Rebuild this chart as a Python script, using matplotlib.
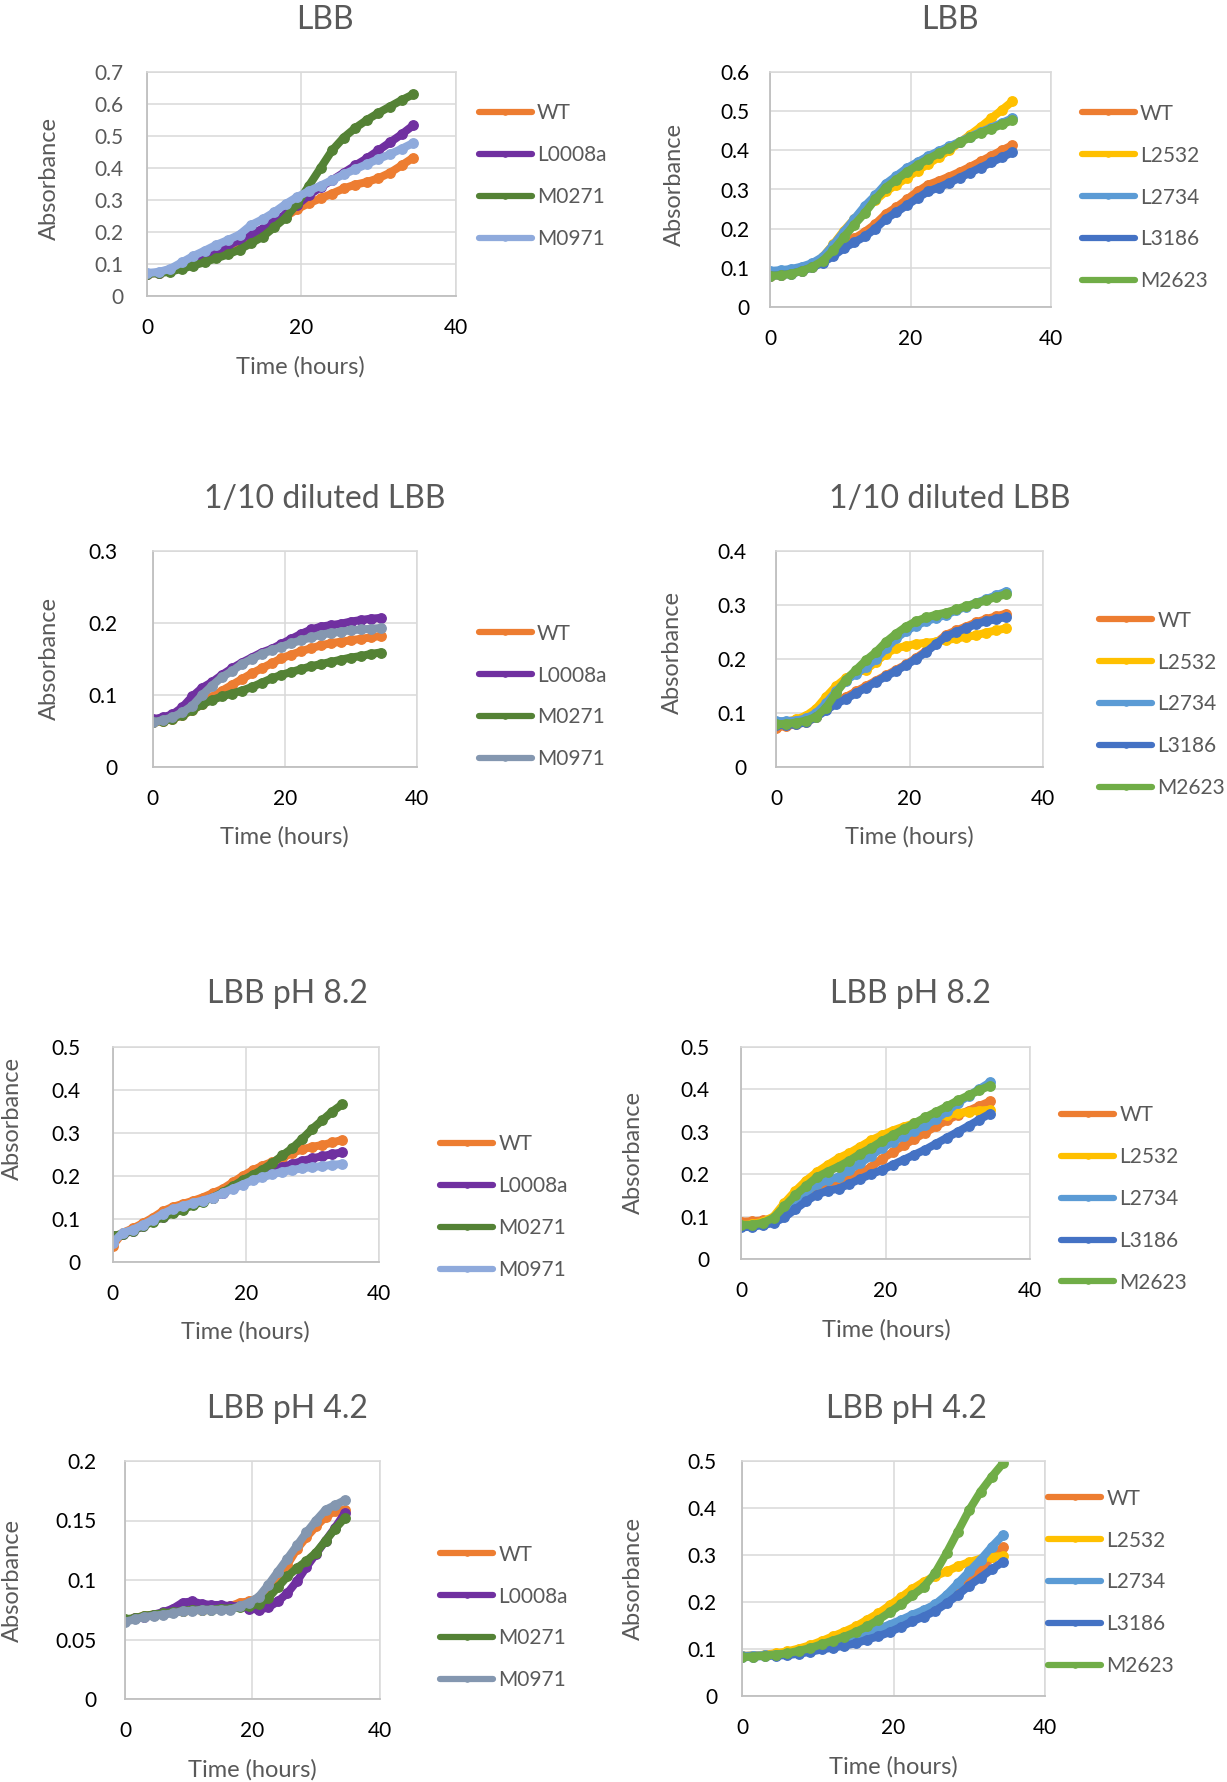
import matplotlib
matplotlib.use("Agg")
import matplotlib.pyplot as plt

plt.rcParams['font.family'] = ['Lato', 'DejaVu Sans']

# ---------------- data ----------------
time_h = [0, 1.5, 3, 4.5, 6, 7.5, 9, 10.5, 12, 13.5, 15, 16.5, 18, 19.5,
          21, 22.5, 24, 25.5, 27, 28.5, 30, 31.5, 33, 34.5]

left_strains = ["WT", "L0008a", "M0271", "M0971"]
right_strains = ["WT", "L2532", "L2734", "L3186", "M2623"]

# LBB - left
lbb_wt = [0.070, 0.072, 0.080, 0.092, 0.105, 0.120, 0.135, 0.150, 0.168, 0.188, 0.200, 0.222,
          0.248, 0.272, 0.290, 0.305, 0.320, 0.336, 0.348, 0.356, 0.368, 0.385, 0.408, 0.432]
lbb_l0008a = [0.070, 0.073, 0.082, 0.095, 0.110, 0.126, 0.142, 0.158, 0.175, 0.195, 0.210, 0.235,
              0.255, 0.285, 0.315, 0.340, 0.362, 0.385, 0.408, 0.430, 0.455, 0.480, 0.505, 0.533]
lbb_m0271 = [0.070, 0.071, 0.076, 0.085, 0.095, 0.106, 0.118, 0.130, 0.145, 0.165, 0.185, 0.215,
             0.245, 0.290, 0.345, 0.400, 0.455, 0.495, 0.525, 0.550, 0.572, 0.592, 0.612, 0.630]
lbb_m0971 = [0.072, 0.075, 0.085, 0.105, 0.125, 0.142, 0.160, 0.175, 0.192, 0.222, 0.240, 0.262,
             0.288, 0.310, 0.328, 0.345, 0.362, 0.380, 0.396, 0.412, 0.428, 0.443, 0.460, 0.478]

# LBB - right
lbbr_wt = [0.080, 0.082, 0.086, 0.093, 0.103, 0.118, 0.138, 0.158, 0.175, 0.192, 0.212, 0.238,
           0.255, 0.275, 0.295, 0.312, 0.322, 0.333, 0.345, 0.358, 0.372, 0.386, 0.400, 0.413]
lbbr_l2532 = [0.080, 0.082, 0.087, 0.095, 0.106, 0.128, 0.160, 0.195, 0.225, 0.252, 0.272, 0.295,
              0.312, 0.330, 0.348, 0.365, 0.382, 0.400, 0.420, 0.440, 0.460, 0.482, 0.503, 0.525]
lbbr_l2734 = [0.092, 0.094, 0.097, 0.103, 0.112, 0.128, 0.158, 0.192, 0.225, 0.258, 0.285, 0.315,
              0.335, 0.355, 0.370, 0.385, 0.398, 0.410, 0.422, 0.435, 0.447, 0.458, 0.470, 0.482]
lbbr_l3186 = [0.080, 0.081, 0.085, 0.092, 0.101, 0.113, 0.130, 0.150, 0.165, 0.180, 0.200, 0.225,
              0.242, 0.260, 0.278, 0.295, 0.305, 0.317, 0.330, 0.343, 0.356, 0.369, 0.382, 0.395]
lbbr_m2623 = [0.080, 0.081, 0.085, 0.092, 0.102, 0.118, 0.145, 0.178, 0.210, 0.240, 0.275, 0.305,
              0.325, 0.345, 0.362, 0.378, 0.392, 0.405, 0.420, 0.433, 0.445, 0.455, 0.466, 0.477]

# 1/10 diluted LBB - left
dil_wt = [0.062, 0.064, 0.067, 0.072, 0.079, 0.087, 0.097, 0.106, 0.114, 0.122, 0.130, 0.137,
          0.144, 0.151, 0.156, 0.161, 0.165, 0.169, 0.172, 0.174, 0.176, 0.178, 0.180, 0.182]
dil_l0008a = [0.066, 0.069, 0.073, 0.083, 0.098, 0.110, 0.118, 0.128, 0.137, 0.145, 0.152, 0.159,
              0.164, 0.171, 0.178, 0.185, 0.191, 0.195, 0.197, 0.199, 0.202, 0.204, 0.206, 0.207]
dil_m0271 = [0.062, 0.064, 0.067, 0.072, 0.079, 0.087, 0.093, 0.098, 0.102, 0.106, 0.111, 0.117,
             0.123, 0.128, 0.132, 0.136, 0.140, 0.143, 0.146, 0.149, 0.152, 0.154, 0.157, 0.159]
dil_m0971 = [0.062, 0.065, 0.069, 0.076, 0.085, 0.100, 0.113, 0.125, 0.133, 0.143, 0.150, 0.157,
             0.162, 0.167, 0.172, 0.176, 0.180, 0.184, 0.186, 0.188, 0.190, 0.191, 0.192, 0.193]

# 1/10 diluted LBB - right
dilr_wt = [0.073, 0.076, 0.079, 0.083, 0.092, 0.108, 0.120, 0.130, 0.140, 0.150, 0.160, 0.170,
           0.180, 0.190, 0.202, 0.215, 0.230, 0.245, 0.253, 0.260, 0.268, 0.274, 0.279, 0.284]
dilr_l2532 = [0.080, 0.084, 0.088, 0.095, 0.108, 0.130, 0.150, 0.165, 0.175, 0.180, 0.195, 0.210,
              0.220, 0.224, 0.228, 0.230, 0.232, 0.235, 0.238, 0.241, 0.244, 0.249, 0.253, 0.257]
dilr_l2734 = [0.085, 0.085, 0.086, 0.090, 0.100, 0.118, 0.140, 0.160, 0.173, 0.185, 0.200, 0.220,
              0.238, 0.252, 0.262, 0.270, 0.276, 0.282, 0.290, 0.297, 0.304, 0.311, 0.318, 0.325]
dilr_l3186 = [0.077, 0.078, 0.079, 0.083, 0.092, 0.105, 0.117, 0.126, 0.137, 0.147, 0.158, 0.168,
              0.178, 0.189, 0.200, 0.213, 0.228, 0.242, 0.250, 0.257, 0.265, 0.270, 0.274, 0.278]
dilr_m2623 = [0.079, 0.080, 0.082, 0.086, 0.093, 0.110, 0.137, 0.162, 0.180, 0.198, 0.213, 0.232,
              0.247, 0.260, 0.270, 0.277, 0.282, 0.286, 0.292, 0.298, 0.303, 0.309, 0.315, 0.320]

# LBB pH 8.2 - left
ph82_wt = [0.038, 0.068, 0.078, 0.090, 0.103, 0.118, 0.128, 0.135, 0.142, 0.150, 0.160, 0.170,
           0.185, 0.200, 0.213, 0.224, 0.233, 0.242, 0.254, 0.262, 0.268, 0.272, 0.278, 0.284]
ph82_l0008a = [0.060, 0.065, 0.072, 0.083, 0.095, 0.105, 0.116, 0.125, 0.134, 0.142, 0.150, 0.160,
               0.172, 0.186, 0.196, 0.205, 0.213, 0.221, 0.228, 0.235, 0.241, 0.246, 0.251, 0.255]
ph82_m0271 = [0.060, 0.066, 0.073, 0.083, 0.094, 0.104, 0.113, 0.122, 0.132, 0.140, 0.150, 0.162,
              0.176, 0.190, 0.202, 0.215, 0.230, 0.248, 0.265, 0.287, 0.310, 0.330, 0.350, 0.367]
ph82_m0971 = [0.045, 0.068, 0.075, 0.086, 0.098, 0.112, 0.123, 0.130, 0.137, 0.143, 0.150, 0.160,
              0.170, 0.180, 0.190, 0.197, 0.204, 0.210, 0.214, 0.218, 0.221, 0.223, 0.226, 0.228]

# LBB pH 8.2 - right
ph82r_wt = [0.088, 0.089, 0.091, 0.096, 0.108, 0.125, 0.145, 0.162, 0.173, 0.180, 0.191, 0.203,
            0.217, 0.236, 0.252, 0.268, 0.283, 0.298, 0.313, 0.327, 0.340, 0.350, 0.361, 0.372]
ph82r_l2532 = [0.080, 0.082, 0.088, 0.100, 0.132, 0.160, 0.185, 0.205, 0.222, 0.238, 0.250, 0.265,
               0.280, 0.292, 0.303, 0.312, 0.320, 0.328, 0.335, 0.340, 0.344, 0.347, 0.350, 0.352]
ph82r_l2734 = [0.078, 0.079, 0.083, 0.092, 0.112, 0.136, 0.158, 0.176, 0.186, 0.194, 0.210, 0.226,
               0.243, 0.262, 0.276, 0.290, 0.303, 0.315, 0.330, 0.348, 0.368, 0.385, 0.401, 0.417]
ph82r_l3186 = [0.075, 0.076, 0.080, 0.085, 0.098, 0.117, 0.136, 0.152, 0.161, 0.166, 0.177, 0.189,
               0.200, 0.210, 0.222, 0.234, 0.246, 0.258, 0.272, 0.286, 0.300, 0.314, 0.329, 0.343]
ph82r_m2623 = [0.080, 0.081, 0.085, 0.097, 0.124, 0.150, 0.172, 0.193, 0.206, 0.218, 0.232, 0.248,
               0.262, 0.278, 0.292, 0.306, 0.320, 0.334, 0.347, 0.360, 0.374, 0.386, 0.398, 0.409]

# LBB pH 4.2 - left
ph42_wt = [0.066, 0.068, 0.070, 0.071, 0.072, 0.073, 0.074, 0.075, 0.075, 0.076, 0.076, 0.078,
           0.081, 0.082, 0.085, 0.093, 0.103, 0.113, 0.126, 0.136, 0.145, 0.153, 0.158, 0.159]
ph42_l0008a = [0.066, 0.068, 0.069, 0.071, 0.073, 0.076, 0.081, 0.082, 0.080, 0.079, 0.079, 0.078,
               0.078, 0.076, 0.075, 0.077, 0.082, 0.089, 0.099, 0.111, 0.122, 0.133, 0.144, 0.156]
ph42_m0271 = [0.067, 0.068, 0.070, 0.071, 0.072, 0.073, 0.074, 0.075, 0.075, 0.075, 0.076, 0.076,
              0.077, 0.078, 0.080, 0.085, 0.094, 0.103, 0.110, 0.116, 0.123, 0.133, 0.143, 0.152]
ph42_m0971 = [0.065, 0.067, 0.069, 0.070, 0.071, 0.072, 0.074, 0.074, 0.075, 0.075, 0.075, 0.075,
              0.078, 0.081, 0.086, 0.096, 0.107, 0.118, 0.129, 0.140, 0.150, 0.159, 0.163, 0.167]

# LBB pH 4.2 - right
ph42r_wt = [0.085, 0.086, 0.087, 0.088, 0.090, 0.094, 0.099, 0.105, 0.110, 0.116, 0.123, 0.131,
            0.140, 0.148, 0.157, 0.166, 0.176, 0.188, 0.204, 0.225, 0.248, 0.270, 0.295, 0.316]
ph42r_l2532 = [0.085, 0.086, 0.088, 0.091, 0.095, 0.101, 0.108, 0.117, 0.127, 0.137, 0.148, 0.162,
               0.176, 0.193, 0.210, 0.228, 0.243, 0.255, 0.265, 0.276, 0.285, 0.292, 0.296, 0.298]
ph42r_l2734 = [0.085, 0.086, 0.087, 0.088, 0.090, 0.094, 0.100, 0.106, 0.113, 0.120, 0.127, 0.135,
               0.143, 0.152, 0.162, 0.173, 0.183, 0.195, 0.215, 0.240, 0.265, 0.290, 0.318, 0.343]
ph42r_l3186 = [0.083, 0.084, 0.085, 0.086, 0.087, 0.090, 0.094, 0.099, 0.103, 0.107, 0.112, 0.120,
               0.127, 0.136, 0.147, 0.159, 0.169, 0.181, 0.197, 0.215, 0.235, 0.252, 0.270, 0.286]
ph42r_m2623 = [0.083, 0.084, 0.086, 0.088, 0.091, 0.096, 0.102, 0.110, 0.118, 0.126, 0.136, 0.148,
               0.162, 0.178, 0.195, 0.214, 0.232, 0.262, 0.304, 0.350, 0.396, 0.435, 0.467, 0.496]

# ---------------- styling / layout ----------------
ORANGE, PURPLE, DKGREEN = '#ED7D31', '#7030A0', '#548235'
LTBLUE, SLATE = '#8FAADC', '#8497B0'
YELLOW, BLUE, DKBLUE, GREEN = '#FFC000', '#5B9BD5', '#4472C4', '#70AD47'
GREY_TXT = '#595959'

W, H = 1227, 1782
fig = plt.figure(figsize=(W / 100, H / 100), dpi=100)


def fx(x):
    return x / W


def fy(y):
    return 1 - y / H


panels = [
    dict(box=(147, 455.5, 72, 296), ymax=0.7, ystep=0.1, title="LBB", tpos=(325, 20),
         ylab=(49, 178), xlab=(300.5, 367), leg=(478.5, 176), ypad=17, ytc=GREY_TXT,
         series=[lbb_wt, lbb_l0008a, lbb_m0271, lbb_m0971], names=left_strains,
         colors=[ORANGE, PURPLE, DKGREEN, LTBLUE]),
    dict(box=(770, 1051, 72, 307), ymax=0.6, ystep=0.1, title="LBB", tpos=(950, 20),
         ylab=(674, 185), xlab=None, leg=(1081.5, 197.5), ypad=15, ytc='black',
         series=[lbbr_wt, lbbr_l2532, lbbr_l2734, lbbr_l3186, lbbr_m2623], names=right_strains,
         colors=[ORANGE, YELLOW, BLUE, DKBLUE, GREEN]),
    dict(box=(152.6, 417, 551, 767), ymax=0.3, ystep=0.1, title="1/10 diluted LBB", tpos=(325, 499),
         ylab=(49, 658), xlab=(284.7, 837), leg=(478.5, 696.5), ypad=25, ytc='black',
         series=[dil_wt, dil_l0008a, dil_m0271, dil_m0971], names=left_strains,
         colors=[ORANGE, PURPLE, DKGREEN, SLATE]),
    dict(box=(776, 1043, 551, 767), ymax=0.4, ystep=0.1, title="1/10 diluted LBB", tpos=(950, 499),
         ylab=(672, 652), xlab=(909.6, 837), leg=(1099, 704.5), ypad=21, ytc='black',
         series=[dilr_wt, dilr_l2532, dilr_l2734, dilr_l3186, dilr_m2623], names=right_strains,
         colors=[ORANGE, YELLOW, BLUE, DKBLUE, GREEN]),
    dict(box=(112.7, 379, 1047, 1262), ymax=0.5, ystep=0.1, title="LBB pH 8.2", tpos=(287, 994),
         ylab=(12, 1118), xlab=(245, 1332), leg=(440, 1207), ypad=23, ytc='black',
         series=[ph82_wt, ph82_l0008a, ph82_m0271, ph82_m0971], names=left_strains,
         colors=[ORANGE, PURPLE, DKGREEN, LTBLUE]),
    dict(box=(741, 1030, 1047, 1259), ymax=0.5, ystep=0.1, title="LBB pH 8.2", tpos=(910, 994),
         ylab=(633.5, 1152), xlab=(886, 1330), leg=(1061, 1199), ypad=23, ytc='black',
         series=[ph82r_wt, ph82r_l2532, ph82r_l2734, ph82r_l3186, ph82r_m2623], names=right_strains,
         colors=[ORANGE, YELLOW, BLUE, DKBLUE, GREEN]),
    dict(box=(125.3, 379.6, 1461, 1699), ymax=0.2, ystep=0.05, title="LBB pH 4.2", tpos=(287, 1409),
         ylab=(12, 1580), xlab=(252, 1770), leg=(440, 1617.5), ypad=21, ytc='black',
         series=[ph42_wt, ph42_l0008a, ph42_m0271, ph42_m0971], names=left_strains,
         colors=[ORANGE, PURPLE, DKGREEN, SLATE]),
    dict(box=(742, 1045, 1461, 1696), ymax=0.5, ystep=0.1, title="LBB pH 4.2", tpos=(906.5, 1409),
         ylab=(633.5, 1578), xlab=(893.7, 1767), leg=(1048, 1582.5), ypad=18, ytc='black',
         series=[ph42r_wt, ph42r_l2532, ph42r_l2734, ph42r_l3186, ph42r_m2623], names=right_strains,
         colors=[ORANGE, YELLOW, BLUE, DKBLUE, GREEN]),
]

for p in panels:
    x0, x1, y0, y1 = p['box']
    ax = fig.add_axes([fx(x0), fy(y1), (x1 - x0) / W, (y1 - y0) / H])
    for vals, name, col in zip(p['series'], p['names'], p['colors']):
        ax.plot(time_h, vals, color=col, lw=5.8, marker='o', ms=6.8,
                mec=col, mfc=col, label=name, solid_capstyle='round',
                solid_joinstyle='round')
    ax.set_xlim(0, 40)
    ax.set_ylim(0, p['ymax'])
    ax.set_xticks([0, 20, 40])
    n = int(round(p['ymax'] / p['ystep']))
    yt = [round(i * p['ystep'], 3) for i in range(n + 1)]
    ax.set_yticks(yt)
    ax.set_yticklabels([f"{v:g}" for v in yt])
    ax.grid(True, color='#D9D9D9', lw=1.1)
    ax.set_axisbelow(True)
    for side in ['top', 'right']:
        ax.spines[side].set_color('#D9D9D9')
        ax.spines[side].set_linewidth(1.1)
    for side in ['left', 'bottom']:
        ax.spines[side].set_color('#BFBFBF')
        ax.spines[side].set_linewidth(1.3)
    ax.tick_params(axis='x', length=0, pad=16, labelsize=15, labelcolor='black')
    ax.tick_params(axis='y', length=0, pad=p['ypad'], labelsize=15, labelcolor=p['ytc'])

    fig.text(fx(p['tpos'][0]), fy(p['tpos'][1]), p['title'], ha='center', va='center',
             fontsize=23, color=GREY_TXT)
    fig.text(fx(p['ylab'][0]), fy(p['ylab'][1]), "Absorbance", rotation=90, ha='center',
             va='center', fontsize=17, color=GREY_TXT)
    if p['xlab'] is not None:
        fig.text(fx(p['xlab'][0]), fy(p['xlab'][1]), "Time (hours)", ha='center', va='center',
                 fontsize=17, color=GREY_TXT)
    leg = ax.legend(loc='center left', bbox_to_anchor=(fx(p['leg'][0]), fy(p['leg'][1])),
                    bbox_transform=fig.transFigure, frameon=False, fontsize=15,
                    borderpad=0, borderaxespad=0, handlelength=2.55, handletextpad=0.25,
                    labelspacing=1.05, markerscale=0.55)
    for t in leg.get_texts():
        t.set_color(GREY_TXT)
    for h in leg.get_lines():
        h.set_linewidth(4.5)

fig.savefig("out.png", dpi=100, facecolor='white')
